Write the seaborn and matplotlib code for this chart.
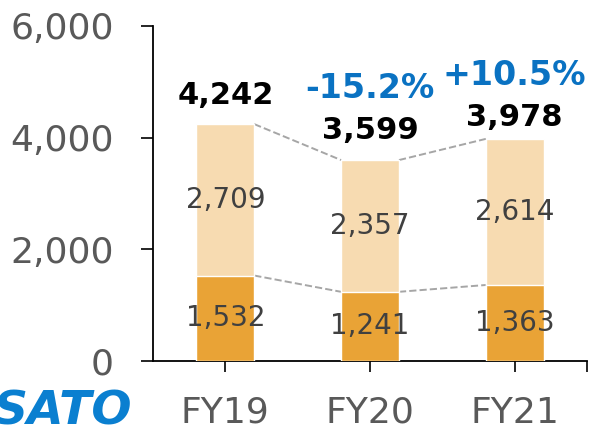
import numpy as np
import pandas as pd
import matplotlib
matplotlib.use('Agg')
import matplotlib.pyplot as plt
import seaborn as sns

# data
years = ['FY19', 'FY20', 'FY21']
lower = [1532, 1241, 1363]
upper = [2709, 2357, 2614]
totals = [4242, 3599, 3978]
changes = ['', '-15.2%', '+10.5%']

df = pd.DataFrame({'year': years, 'lower': lower, 'upper': upper, 'total': totals})

DARK = '#E9A336'
LIGHT = '#F7DBB1'
GREY_TXT = '#595959'
BLUE = '#0A72C2'
BAR_W = 0.4
total_pad = [10, 11, 5]   # label gap above each bar, points

sns.set_theme(style='white')
plt.rcParams['font.family'] = ['DejaVu Sans']

fig = plt.figure(figsize=(5.93, 4.32), dpi=100)
ax = fig.add_axes([0.258, 0.164, 0.732, 0.776])

sns.barplot(data=df, x='year', y='total', color=LIGHT, width=BAR_W,
            saturation=1, ax=ax, zorder=2)
sns.barplot(data=df, x='year', y='lower', color=DARK, width=BAR_W,
            saturation=1, ax=ax, zorder=3)

# dashed connectors between bar tops and segment boundaries
for i in range(len(years) - 1):
    for col in ['total', 'lower']:
        ax.plot([i + BAR_W / 2, i + 1 - BAR_W / 2],
                [df[col][i], df[col][i + 1]],
                ls='--', color='#A6A6A6', lw=1.4, zorder=1)

for i, row in df.iterrows():
    ax.text(i, row['lower'] / 2, f"{row['lower']:,}", ha='center', va='center',
            fontsize=20, color='#404040', zorder=5)
    ax.text(i, row['lower'] + row['upper'] / 2, f"{row['upper']:,}",
            ha='center', va='center', fontsize=20, color='#404040', zorder=5)
    ax.annotate(f"{row['total']:,}", (i, row['total']), xytext=(0, total_pad[i]),
                textcoords='offset points', ha='center', va='bottom',
                fontsize=22, fontweight='bold', color='black')
    if changes[i]:
        ax.annotate(changes[i], (i, row['total']), xytext=(0, total_pad[i] + 29),
                    textcoords='offset points', ha='center', va='bottom',
                    fontsize=24, fontweight='bold', color=BLUE)

ax.set_ylim(0, 6000)
ax.set_xlim(-0.5, 2.5)
ax.set_yticks([0, 2000, 4000, 6000])
ax.set_yticklabels([f'{v:,}' for v in [0, 2000, 4000, 6000]])
ax.set_xticks([0, 1, 2, 2.5])
ax.set_xticklabels(years + [''])
ax.set_xlabel('')
ax.set_ylabel('')
ax.tick_params(axis='y', length=9, width=1.2, color='black', pad=19,
               labelsize=26, labelcolor=GREY_TXT, left=True)
ax.tick_params(axis='x', length=8, width=1.2, color='black', pad=17,
               labelsize=26, labelcolor=GREY_TXT, bottom=True)
for side in ['top', 'right']:
    ax.spines[side].set_visible(False)
for side in ['left', 'bottom']:
    ax.spines[side].set_color('black')
    ax.spines[side].set_linewidth(1.3)

# company logo, cropped at the left edge like the source
fig.text(-0.012, -0.005, 'SATO', fontsize=34, fontweight='heavy',
         fontstyle='italic', color='#0A7FD0', ha='left', va='bottom')

fig.savefig('out.png', dpi=100)
